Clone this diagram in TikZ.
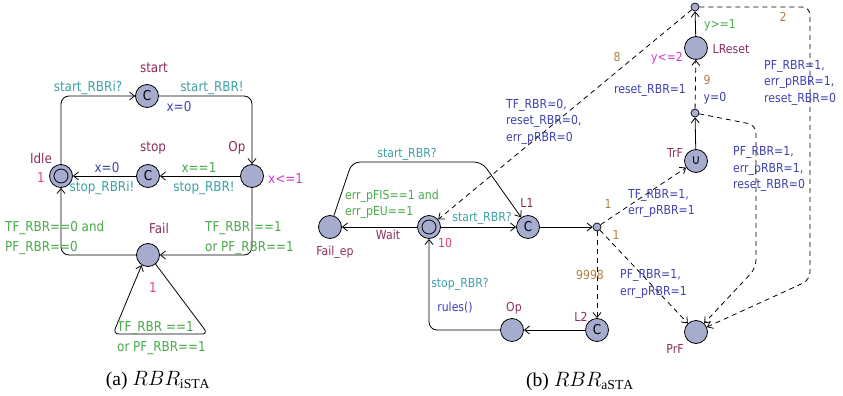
\documentclass[tikz,border=0pt]{standalone}
\usepackage{fontspec}
\setmainfont{Liberation Serif}
\newfontfamily\uf[FakeStretch=0.88]{DejaVu Sans}
\usetikzlibrary{arrows.meta}
\definecolor{locfill}{RGB}{165,172,206}
\definecolor{cname}{RGB}{140,45,95}
\definecolor{csync}{RGB}{60,160,165}
\definecolor{cassign}{RGB}{64,64,176}
\definecolor{cguard}{RGB}{70,170,70}
\definecolor{cinv}{RGB}{200,60,200}
\definecolor{crate}{RGB}{232,64,120}
\definecolor{cprob}{RGB}{176,128,64}
\begin{document}
\begin{tikzpicture}[x=1pt,y=-1pt,
  loc/.style={circle,draw,line width=0.8pt,fill=locfill,minimum size=23pt,inner sep=0pt},
  brp/.style={circle,draw,line width=0.7pt,fill=locfill,minimum size=8pt,inner sep=0pt},
  edge/.style={draw,line width=0.8pt,-{Straight Barb[length=5pt,width=8pt]}},
  dedge/.style={edge,dash pattern=on 5pt off 4pt},
  lb/.style={inner sep=0pt},
  nm/.style={lb,text=cname},
  sy/.style={lb,text=csync},
  as/.style={lb,text=cassign},
  gd/.style={lb,text=cguard},
  iv/.style={lb,text=cinv},
  rt/.style={lb,text=crate},
  pr/.style={lb,text=cprob},
  ml/.style={align=left,anchor=west},
  fa/.style={font=\uf\fontsize{13.6}{20}\selectfont},
  fb/.style={font=\uf\fontsize{12.4}{16.5}\selectfont},
  captxt/.style={lb,font=\fontsize{19.5}{22}\selectfont}
]
\useasboundingbox (0,0) rectangle (843,396);

% ---------------- (a) RBR_iSTA ----------------
\begin{scope}[every node/.append style={fa}]
\node[loc] (start) at (147,96) {C};
\node[loc] (idle) at (61,176) {};
\draw[line width=0.8pt] (idle) circle (7pt);
\node[loc] (stop) at (148,176) {C};
\node[loc] (op) at (252,176) {};
\node[loc] (fail) at (148,255) {};
\coordinate (fl1) at (208,334);
\coordinate (fl2) at (113,334);

\draw[edge,rounded corners=8pt] (idle) |- (start);
\draw[edge,rounded corners=8pt] (start) -| (op);
\draw[edge] (op) -- (stop);
\draw[edge] (stop) -- (idle);
\draw[edge,rounded corners=8pt] (op) |- (fail);
\draw[edge,rounded corners=8pt] (fail) -| (idle);
\draw[edge,rounded corners=6pt] (fail.-50) -- (fl1) -- (fl2) -- (fail.-122);

\node[nm] (tstart) at (154,68) {start};
\node[sy] (tsrbri) at (88,88) {start\_RBRi?};
\node[sy] (tsrbr) at (212,88) {start\_RBR!};
\node[as] (tx0a) at (179,107) {x=0};
\node[nm] (tstop) at (153,148) {stop};
\node[nm] (top) at (237,148) {Op};
\node[nm] (tidle) at (41,158) {Idle};
\node[rt] (tr1) at (41,178) {1};
\node[as] (tx0b) at (107,168) {x=0};
\node[sy] (tstrbri) at (102,188) {stop\_RBRi!};
\node[gd] (tx1) at (199,168) {x==1};
\node[sy] (tstrbr) at (204,188) {stop\_RBR!};
\node[iv,anchor=west] (tinv) at (268,179) {x<=1};
\node[gd,ml] (tg1) at (5,238) {TF\_RBR==0 and\\PF\_RBR==0};
\node[nm] (tfail) at (159,228) {Fail};
\node[rt] (tr2) at (153,288) {1};
\node[gd,ml] (tg2) at (205,238) {TF\_RBR ==1\\or PF\_RBR==1};
\node[gd,ml] (tg3) at (117,338) {TF\_RBR ==1\\or PF\_RBR==1};
\end{scope}

% ---------------- (b) RBR_aSTA ----------------
\begin{scope}[every node/.append style={fb}]
\node[loc] (failep) at (330,227) {};
\node[loc] (wait) at (429,227) {};
\draw[line width=0.8pt] (wait) circle (7pt);
\node[loc,font=\uf\fontsize{13.6}{14}\selectfont] (l1) at (528,227) {C};
\node[brp] (b1) at (597,227) {};
\node[loc,font=\uf\fontsize{13.6}{14}\selectfont] (l2) at (597,330) {C};
\node[loc] (op2) at (512,330) {};
\node[loc,font=\uf\fontsize{13.6}{14}\selectfont] (trf) at (696,161) {∪};
\node[brp] (b2) at (695,113) {};
\node[loc] (lreset) at (696,48) {};
\node[brp] (b3) at (695,7) {};
\node[loc] (prf) at (696,332) {};

\coordinate (c1) at (352,162);
\coordinate (c2) at (482,162);
\coordinate (c3) at (810,7);
\coordinate (c4) at (810,280);
\coordinate (c5) at (756,125);
\coordinate (c6) at (756,268);

\draw[edge,rounded corners=8pt] (failep) -- (c1) -- (c2) -- (l1);
\draw[edge] (wait) -- (l1);
\draw[edge] (wait) -- (failep);
\draw[edge] (l1) -- (b1);
\draw[dedge] (b1) -- (trf);
\draw[dedge] (b1) -- (prf);
\draw[dedge] (b1) -- (l2);
\draw[edge] (l2) -- (op2);
\draw[edge,rounded corners=8pt] (op2) -| (wait);
\draw[edge] (trf) -- (b2);
\draw[dedge] (b2) -- (lreset);
\draw[edge] (lreset) -- (b3);
\draw[dedge] (b3) -- (wait);
\draw[dedge,rounded corners=8pt] (b3) -- (c3) -- (c4) -- (prf);
\draw[dedge,rounded corners=8pt] (b2) -- (c5) -- (c6) -- (prf);

\node[sy] (us1) at (407,154) {start\_RBR?};
\node[gd,ml] (ug1) at (345,204) {err\_pFIS==1 and\\err\_pEU==1};
\node[nm] (uwait) at (388,235) {Wait};
\node[rt] (ur10) at (445,243) {10};
\node[sy] (us2) at (482,218) {start\_RBR?};
\node[nm] (ul1) at (527,203) {L1};
\node[nm] (ufep) at (335,252) {Fail\_ep};
\node[pr] (up1) at (608,204) {1};
\node[pr] (up2) at (616,235) {1};
\node[as,ml] (ua1) at (628,203.5) {TF\_RBR=1,\\err\_pRBR=1};
\node[as,ml] (ua2) at (620,284) {PF\_RBR=1,\\err\_pRBR=1};
\node[pr] (up3) at (590,275) {9998};
\node[nm] (ul2) at (581,317) {L2};
\node[nm] (uop) at (514,308) {Op};
\node[sy] (us3) at (460,284) {stop\_RBR?};
\node[as] (urules) at (455,308) {rules()};
\node[nm] (utrf) at (675,153) {TrF};
\node[pr] (up4) at (707,80) {9};
\node[as] (uy0) at (715,98) {y=0};
\node[as] (ures) at (650,90) {reset\_RBR=1};
\node[nm] (ulr) at (731,49) {LReset};
\node[iv] (uinv) at (667,58) {y<=2};
\node[gd] (ug2) at (720,25) {y>=1};
\node[pr] (up5) at (617,57) {8};
\node[pr] (up6) at (783,17) {2};
\node[as,ml] (ua3) at (506,121.5) {TF\_RBR=0,\\reset\_RBR=0,\\err\_pRBR=0};
\node[as,ml] (ua4) at (764,82.5) {PF\_RBR=1,\\err\_pRBR=1,\\reset\_RBR=0};
\node[as,ml] (ua5) at (733,169) {PF\_RBR=1,\\err\_pRBR=1,\\reset\_RBR=0};
\node[nm] (uprf) at (675,349) {PrF};
\end{scope}

% captions
\node[captxt] (capa) at (158,380) {(a) $RBR_{\mathrm{iSTA}}$};
\node[captxt] (capb) at (580,381) {(b) $RBR_{\mathrm{aSTA}}$};
\end{tikzpicture}
\end{document}
